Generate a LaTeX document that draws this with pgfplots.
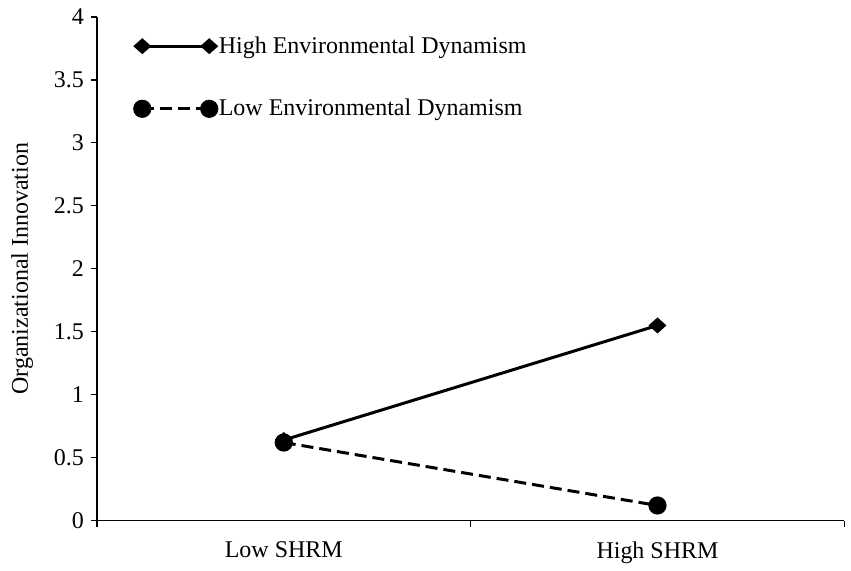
\documentclass[border=0pt]{standalone}
\usepackage{fontspec}
\setmainfont{Liberation Serif}
\usepackage{pgfplots}
\pgfplotsset{compat=1.18}
\begin{document}
\begin{tikzpicture}
\begin{axis}[
  scale only axis,
  width=374pt, height=252pt,
  xmin=0, xmax=2, ymin=0, ymax=4,
  axis x line*=bottom, axis y line*=left,
  x axis line style={-}, y axis line style={-},
  xtick={0,1,2}, xticklabels={},
  extra x ticks={0.5,1.5},
  extra x tick labels={Low SHRM, High SHRM},
  extra x tick style={major tick length=0pt, tick label style={yshift=-7pt}},
  ytick={0,0.5,...,4},
  yticklabels={0,0.5,1,1.5,2,2.5,3,3.5,4},
  tick align=outside, major tick length=3pt,
  tick style={black, line width=0.6pt},
  axis line style={line width=0.6pt},
  /pgf/number format/assume math mode=true,
  tick label style={font=\fontsize{12}{14}\selectfont},
  ylabel={Organizational Innovation},
  ylabel style={at={(axis description cs:-0.1,0.5)}, anchor=center, rotate=0, font=\fontsize{12}{14}\selectfont},
  legend style={at={(rel axis cs:0.05,1)}, anchor=north west, yshift=-8.5pt, draw=none, fill=none,
    font=\fontsize{12}{14}\selectfont, row sep=19.5pt, inner sep=0pt,
    nodes={inner sep=1pt}},
  legend cell align=left,
  legend image code/.code={\draw[mark repeat=2, mark phase=1, #1] plot coordinates {(0pt,0pt) (16.75pt,0pt) (33.5pt,0pt)};},
  clip=false,
]
\addplot[black, line width=1.5pt, mark=diamond*, mark size=3pt, mark options={solid, xscale=1.5}]
  coordinates {(0.5,0.64) (1.5,1.55)};
\addlegendentry{High Environmental Dynamism}
\addplot[black, line width=1.5pt, dash pattern=on 6pt off 3pt, mark=*, mark size=3.8pt, mark options={solid}]
  coordinates {(0.5,0.62) (1.5,0.12)};
\addlegendentry{Low Environmental Dynamism}
\coordinate (sw) at (rel axis cs:0,0);
\coordinate (ne) at (rel axis cs:1,1);
\end{axis}
\path ([shift={(-48.5pt,-24.5pt)}]sw) rectangle ([shift={(3pt,8.5pt)}]ne);
\end{tikzpicture}
\end{document}
